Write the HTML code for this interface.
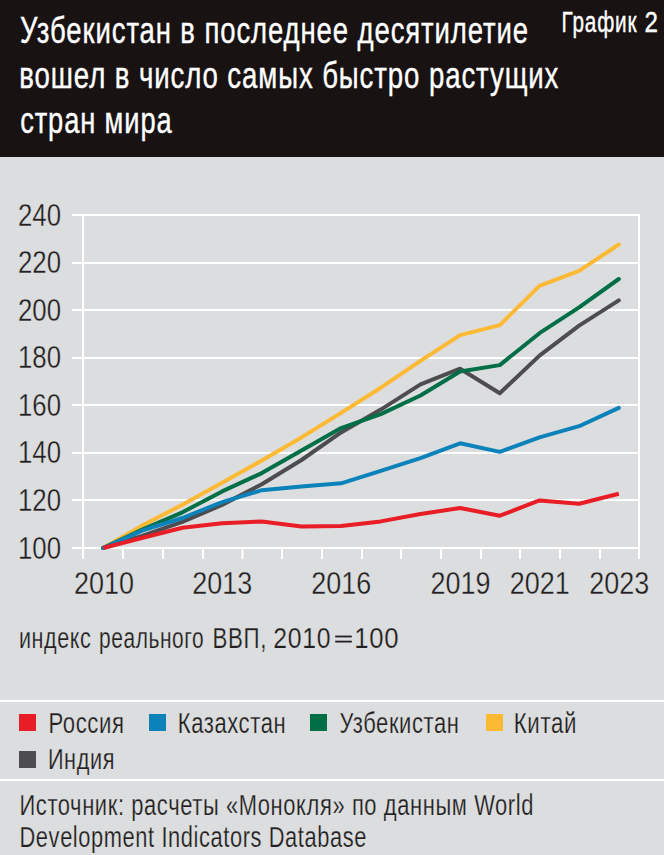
<!DOCTYPE html>
<html><head><meta charset="utf-8">
<style>
html,body{margin:0;padding:0;}
body{width:664px;height:855px;overflow:hidden;background:#dcdddf;}
svg{display:block;}
text{font-family:"Liberation Sans",sans-serif;}
</style></head><body>
<svg width="664" height="855" viewBox="0 0 664 855">
<rect x="0" y="0" width="664" height="855" fill="#dcdddf"/>
<rect x="0" y="0" width="664" height="157" fill="#181213"/>
<g fill="#ffffff" font-size="37" letter-spacing="1.2" stroke="#ffffff" stroke-width="0.4">
<text x="20" y="42.7" textLength="509" lengthAdjust="spacingAndGlyphs">Узбекистан в последнее десятилетие</text>
<text x="19.3" y="87.7" textLength="540" lengthAdjust="spacingAndGlyphs">вошел в число самых быстро растущих</text>
<text x="20.2" y="132.8" textLength="152.3" lengthAdjust="spacingAndGlyphs">стран мира</text>
<text x="561.5" y="32" font-size="29.5" textLength="75.9" lengthAdjust="spacingAndGlyphs">График</text>
<text x="644.4" y="32" font-size="29.5" textLength="14.4" lengthAdjust="spacingAndGlyphs">2</text>
</g>
<!-- gridlines -->
<g stroke="#ffffff" stroke-width="2" fill="none">
<line x1="72" y1="215" x2="640" y2="215"/>
<line x1="72" y1="263" x2="640" y2="263"/>
<line x1="72" y1="310" x2="640" y2="310"/>
<line x1="72" y1="358" x2="640" y2="358"/>
<line x1="72" y1="405" x2="640" y2="405"/>
<line x1="72" y1="453" x2="640" y2="453"/>
<line x1="72" y1="500" x2="640" y2="500"/>
<line x1="72" y1="548" x2="640" y2="548"/>
<line x1="83" y1="214" x2="83" y2="559"/>
<line x1="639" y1="214" x2="639" y2="559"/>
<path d="M123 548V559M163 548V559M203 548V559M242.5 548V559M282 548V559M322 548V559M362 548V559M401 548V559M441 548V559M481 548V559M520 548V559M560 548V559M600 548V559"/>
</g>
<g fill="#231f20" font-size="32" stroke="#dcdddf" stroke-width="0.35">
<text x="18" y="225.5" textLength="43" lengthAdjust="spacingAndGlyphs">240</text>
<text x="18" y="273.1" textLength="43" lengthAdjust="spacingAndGlyphs">220</text>
<text x="18" y="320.6" textLength="43" lengthAdjust="spacingAndGlyphs">200</text>
<text x="18" y="368.2" textLength="43" lengthAdjust="spacingAndGlyphs">180</text>
<text x="18" y="415.8" textLength="43" lengthAdjust="spacingAndGlyphs">160</text>
<text x="18" y="463.4" textLength="43" lengthAdjust="spacingAndGlyphs">140</text>
<text x="18" y="510.9" textLength="43" lengthAdjust="spacingAndGlyphs">120</text>
<text x="18" y="558.5" textLength="43" lengthAdjust="spacingAndGlyphs">100</text>
</g>
<g fill="#231f20" font-size="32" text-anchor="middle" stroke="#dcdddf" stroke-width="0.35">
<text x="104" y="593.5" textLength="60" lengthAdjust="spacingAndGlyphs">2010</text>
<text x="222.2" y="593.5" textLength="60" lengthAdjust="spacingAndGlyphs">2013</text>
<text x="341.3" y="593.5" textLength="60" lengthAdjust="spacingAndGlyphs">2016</text>
<text x="460.4" y="593.5" textLength="60" lengthAdjust="spacingAndGlyphs">2019</text>
<text x="539.8" y="593.5" textLength="60" lengthAdjust="spacingAndGlyphs">2021</text>
<text x="619.2" y="593.5" textLength="60" lengthAdjust="spacingAndGlyphs">2023</text>
</g>
<!-- series -->
<g fill="none" stroke-width="4" stroke-linejoin="round" stroke-linecap="round">
<polyline stroke="#fcb933" points="103.1,548.0 142.8,525.2 182.4,504.7 222.1,482.8 261.8,460.5 301.5,437.4 341.1,412.9 380.8,387.7 420.5,360.8 460.1,335.1 499.8,325.1 539.5,285.9 579.1,270.9 618.8,244.5"/>
<polyline stroke="#4d4d4f" points="103.1,548.0 142.8,535.6 182.4,521.8 222.1,504.9 261.8,484.3 301.5,460.0 341.1,432.4 380.8,409.6 420.5,384.4 460.1,368.7 499.8,393.2 539.5,355.6 579.1,325.6 618.8,300.4"/>
<polyline stroke="#006f45" points="103.1,548.0 142.8,529.4 182.4,512.3 222.1,491.4 261.8,473.1 301.5,450.5 341.1,428.1 380.8,414.1 420.5,395.5 460.1,371.5 499.8,365.1 539.5,333.2 579.1,307.3 618.8,279.0"/>
<polyline stroke="#0b82b9" points="103.1,548.0 142.8,530.4 182.4,518.0 222.1,502.1 261.8,490.2 301.5,486.6 341.1,483.3 380.8,470.9 420.5,458.1 460.1,443.3 499.8,451.9 539.5,437.4 579.1,426.2 618.8,407.9"/>
<polyline stroke="#e81d25" stroke-linecap="butt" points="103.1,548.0 142.8,537.8 182.4,527.8 222.1,523.3 261.8,521.4 301.5,526.6 341.1,526.1 380.8,521.4 420.5,514.0 460.1,508.0 499.8,515.7 539.5,500.4 579.1,503.8 618.8,493.8"/>
</g>
<g fill="#231f20" font-size="29" stroke="#dcdddf" stroke-width="0.25" letter-spacing="0.8">
<text x="18.9" y="647.5" textLength="72.5" lengthAdjust="spacingAndGlyphs">индекс</text>
<text x="99.0" y="647.5" textLength="105.3" lengthAdjust="spacingAndGlyphs">реального</text>
<text x="212.6" y="647.5" textLength="54.4" lengthAdjust="spacingAndGlyphs">ВВП,</text>
<text x="273.3" y="647.5" textLength="57.8" lengthAdjust="spacingAndGlyphs">2010</text>

<text x="354.3" y="647.5" textLength="45.0" lengthAdjust="spacingAndGlyphs">100</text>
</g>
<rect x="335.2" y="635.6" width="16.6" height="1.8" fill="#231f20"/>
<rect x="335.2" y="640.7" width="16.6" height="1.8" fill="#231f20"/>
<rect x="0" y="700" width="664" height="2" fill="#ffffff"/>
<rect x="0" y="779" width="664" height="2" fill="#ffffff"/>
<rect x="19" y="714" width="17" height="17" fill="#e81d25"/>
<rect x="149" y="714" width="17" height="17" fill="#0b82b9"/>
<rect x="310" y="714" width="17" height="17" fill="#006f45"/>
<rect x="486" y="714" width="17" height="17" fill="#fcb933"/>
<rect x="19" y="751" width="17" height="17" fill="#4d4d4f"/>
<g fill="#231f20" font-size="29" stroke="#dcdddf" stroke-width="0.25" letter-spacing="0.8">
<text x="48.4" y="733" textLength="76.2" lengthAdjust="spacingAndGlyphs">Россия</text>
<text x="177.8" y="733" textLength="108.4" lengthAdjust="spacingAndGlyphs">Казахстан</text>
<text x="339.4" y="733" textLength="120.1" lengthAdjust="spacingAndGlyphs">Узбекистан</text>
<text x="513.8" y="733" textLength="63.2" lengthAdjust="spacingAndGlyphs">Китай</text>
<text x="47.9" y="769" textLength="67.1" lengthAdjust="spacingAndGlyphs">Индия</text>
<text x="19.5" y="814.5" textLength="514.5" lengthAdjust="spacingAndGlyphs">Источник: расчеты «Монокля» по данным World</text>
<text x="19.5" y="846.7" textLength="347.5" lengthAdjust="spacingAndGlyphs">Development Indicators Database</text>
</g>
</svg>
</body></html>
